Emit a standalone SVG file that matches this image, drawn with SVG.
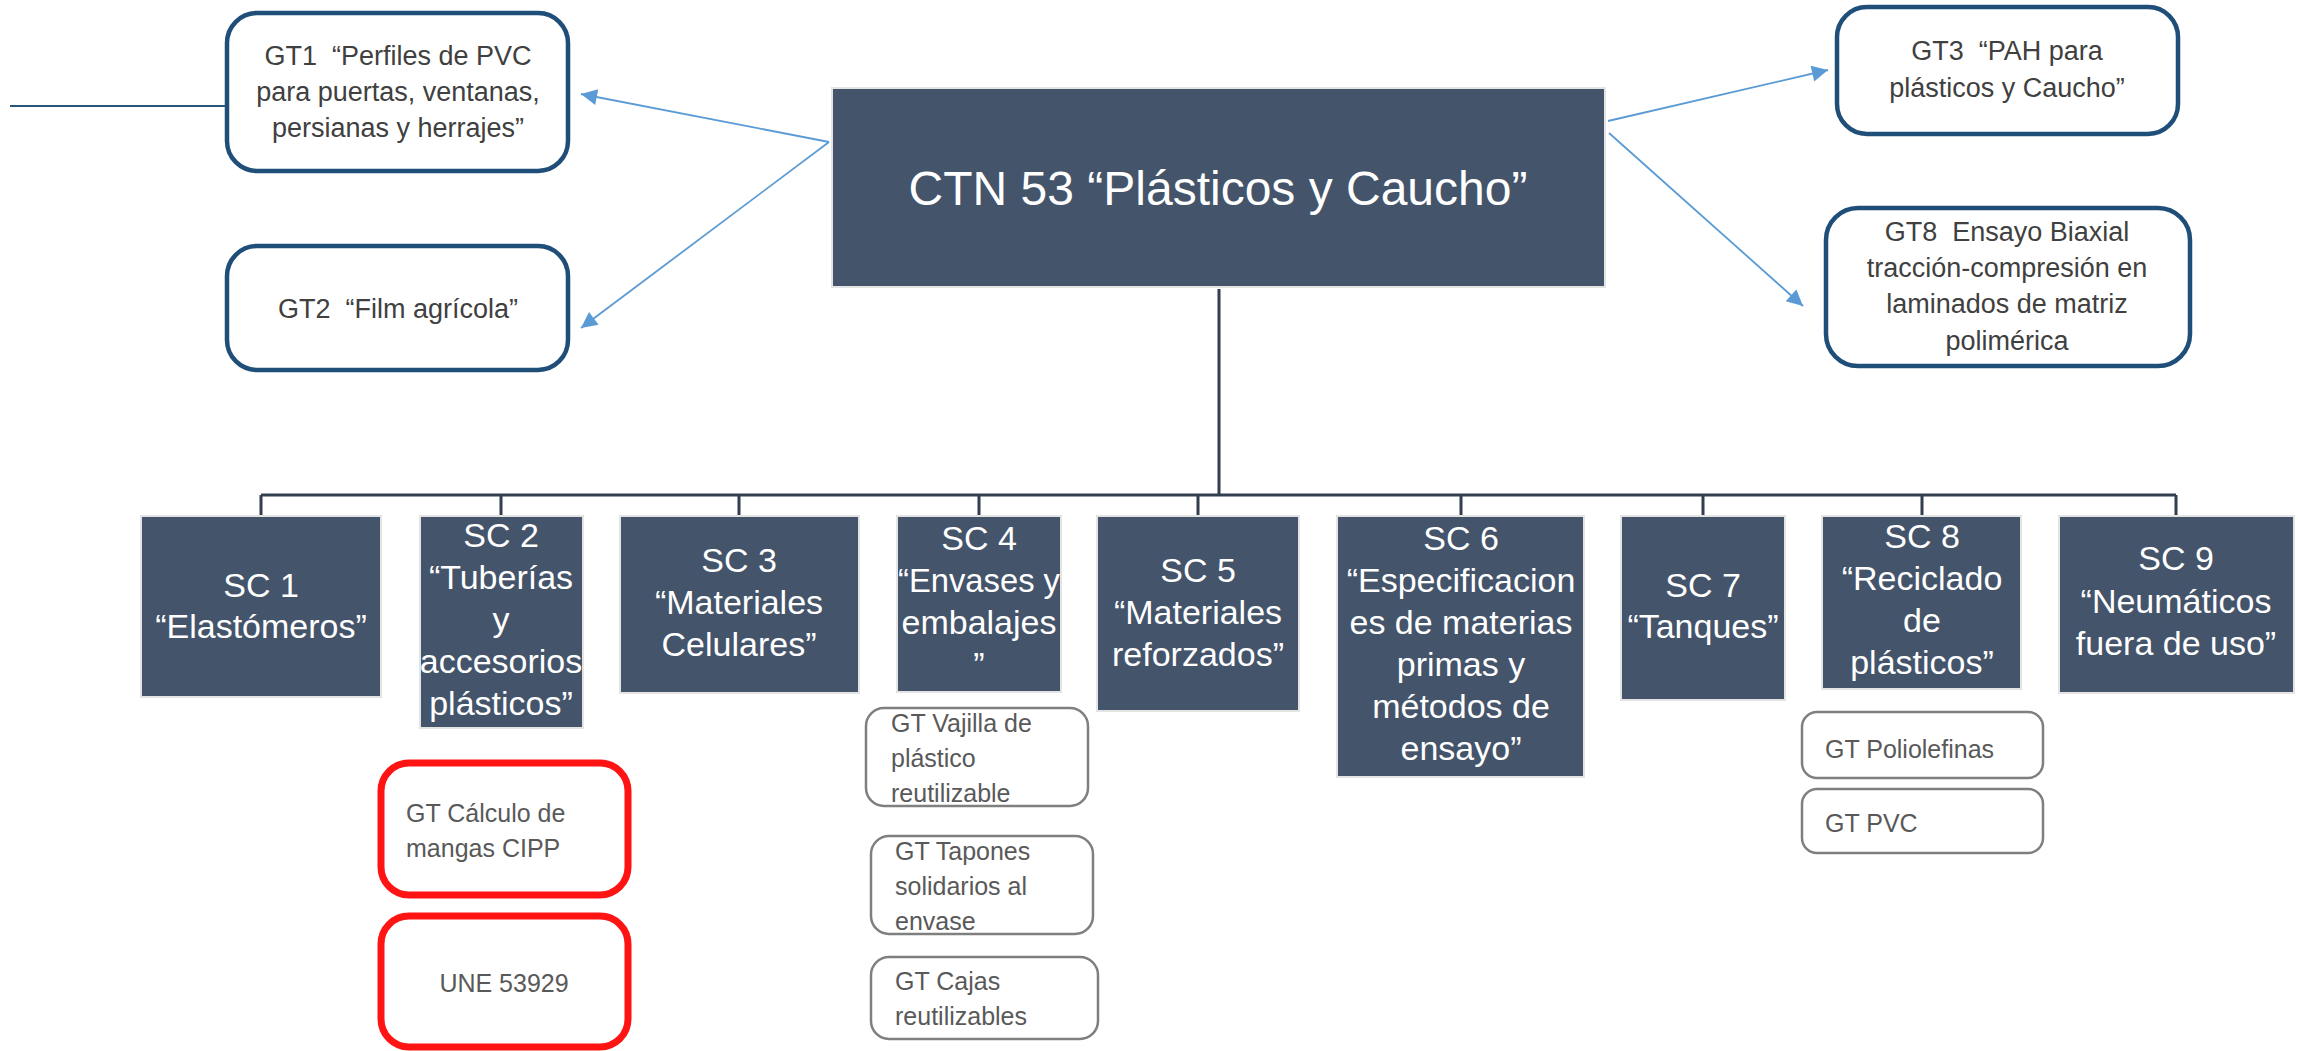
<svg xmlns="http://www.w3.org/2000/svg" width="2298" height="1051" viewBox="0 0 2298 1051">
<style>
.bg{fill:#ffffff}
.gt{fill:#ffffff;stroke:#1f4e79;stroke-width:4.5}
.gtt{font-family:"Liberation Sans",Arial,sans-serif;font-size:27px;fill:#404040;text-anchor:middle;white-space:pre}
.main{fill:#44546a;stroke:#e4e4e4;stroke-width:2}
.maint{font-family:"Liberation Sans",Arial,sans-serif;font-size:48px;fill:#ffffff;text-anchor:middle}
.sc{fill:#44546a;stroke:#e4e4e4;stroke-width:2}
.sct{font-family:"Liberation Sans",Arial,sans-serif;font-size:34px;fill:#ffffff;text-anchor:middle}
.sub{fill:#ffffff;stroke:#7f7f7f;stroke-width:2.5}
.subt{font-family:"Liberation Sans",Arial,sans-serif;font-size:25px;fill:#595959}
.red{fill:#ffffff;stroke:#ff1414;stroke-width:7}
.tree{stroke:#333f50;stroke-width:3;fill:none}
.arr{stroke:#5b9bd5;stroke-width:1.8;fill:none;marker-end:url(#ah)}
</style>
<defs>
<marker id="ah" viewBox="0 0 10 10" refX="10" refY="5" markerUnits="userSpaceOnUse" markerWidth="18" markerHeight="16" orient="auto">
<path d="M0,0 L10,5 L0,10 Z" fill="#5b9bd5"/>
</marker>
</defs>
<rect class="bg" x="0" y="0" width="2298" height="1051"/>

<g id="connectors">
<line x1="10" y1="106" x2="227" y2="106" stroke="#2c5678" stroke-width="2"/>
<path class="arr" d="M829,142 L581,94"/>
<path class="arr" d="M829,142 L581,328"/>
<path class="arr" d="M1608,121 L1828,70"/>
<path class="arr" d="M1609,133 L1803,306"/>
<path class="tree" d="M1219,289 V495 M261,495 H2176 M261,495 V516 M501,495 V516 M739,495 V516 M979,495 V516 M1198,495 V516 M1461,495 V516 M1703,495 V516 M1922,495 V516 M2176,495 V516"/>
</g>

<g id="ctn">
<rect class="main" x="832" y="88" width="773" height="199"/>
<text class="maint" x="1218" y="205">CTN 53 “Plásticos y Caucho”</text>
</g>

<g id="gt1">
<rect class="gt" x="227" y="13" width="341" height="158" rx="30"/>
<text class="gtt" x="398" y="65" xml:space="preserve">GT1  “Perfiles de PVC</text>
<text class="gtt" x="398" y="101">para puertas, ventanas,</text>
<text class="gtt" x="398" y="137">persianas y herrajes”</text>
</g>
<g id="gt2">
<rect class="gt" x="227" y="246" width="341" height="124" rx="30"/>
<text class="gtt" x="398" y="318" xml:space="preserve">GT2  “Film agrícola”</text>
</g>
<g id="gt3">
<rect class="gt" x="1837" y="7" width="341" height="127" rx="30"/>
<text class="gtt" x="2007" y="60" xml:space="preserve">GT3  “PAH para</text>
<text class="gtt" x="2007" y="97">plásticos y Caucho”</text>
</g>
<g id="gt8">
<rect class="gt" x="1826" y="208" width="364" height="158" rx="32"/>
<text class="gtt" x="2007" y="241" xml:space="preserve">GT8  Ensayo Biaxial</text>
<text class="gtt" x="2007" y="277">tracción-compresión en</text>
<text class="gtt" x="2007" y="313">laminados de matriz</text>
<text class="gtt" x="2007" y="350">polimérica</text>
</g>

<g id="sc1">
<rect class="sc" x="141" y="516" width="240" height="181"/>
<text class="sct" x="261" y="597">SC 1</text>
<text class="sct" x="261" y="638">“Elastómeros”</text>
</g>
<g id="sc2">
<rect class="sc" x="420" y="516" width="163" height="212"/>
<text class="sct" x="501" y="547">SC 2</text>
<text class="sct" x="501" y="589">“Tuberías</text>
<text class="sct" x="501" y="631">y</text>
<text class="sct" x="501" y="673">accesorios</text>
<text class="sct" x="501" y="715">plásticos”</text>
</g>
<g id="sc3">
<rect class="sc" x="620" y="516" width="239" height="177"/>
<text class="sct" x="739" y="572">SC 3</text>
<text class="sct" x="739" y="614">“Materiales</text>
<text class="sct" x="739" y="656">Celulares”</text>
</g>
<g id="sc4">
<rect class="sc" x="897" y="516" width="164" height="176"/>
<text class="sct" x="979" y="550">SC 4</text>
<text class="sct" x="979" y="592" textLength="162" lengthAdjust="spacingAndGlyphs">“Envases y</text>
<text class="sct" x="979" y="634">embalajes</text>
<text class="sct" x="979" y="676">”</text>
</g>
<g id="sc5">
<rect class="sc" x="1097" y="516" width="202" height="195"/>
<text class="sct" x="1198" y="582">SC 5</text>
<text class="sct" x="1198" y="624">“Materiales</text>
<text class="sct" x="1198" y="666">reforzados”</text>
</g>
<g id="sc6">
<rect class="sc" x="1337" y="516" width="247" height="261"/>
<text class="sct" x="1461" y="550">SC 6</text>
<text class="sct" x="1461" y="592">“Especificacion</text>
<text class="sct" x="1461" y="634">es de materias</text>
<text class="sct" x="1461" y="676">primas y</text>
<text class="sct" x="1461" y="718">métodos de</text>
<text class="sct" x="1461" y="760">ensayo”</text>
</g>
<g id="sc7">
<rect class="sc" x="1621" y="516" width="164" height="184"/>
<text class="sct" x="1703" y="597">SC 7</text>
<text class="sct" x="1703" y="638">“Tanques”</text>
</g>
<g id="sc8">
<rect class="sc" x="1822" y="516" width="199" height="173"/>
<text class="sct" x="1922" y="548">SC 8</text>
<text class="sct" x="1922" y="590">“Reciclado</text>
<text class="sct" x="1922" y="632">de</text>
<text class="sct" x="1922" y="674">plásticos”</text>
</g>
<g id="sc9">
<rect class="sc" x="2059" y="516" width="235" height="177"/>
<text class="sct" x="2176" y="570">SC 9</text>
<text class="sct" x="2176" y="613">“Neumáticos</text>
<text class="sct" x="2176" y="655">fuera de uso”</text>
</g>

<g id="gt-calculo">
<rect class="red" x="381" y="763" width="247" height="132" rx="28"/>
<text class="subt" x="406" y="822">GT Cálculo de</text>
<text class="subt" x="406" y="857">mangas CIPP</text>
</g>
<g id="une53929">
<rect class="red" x="381" y="916" width="247" height="131" rx="28"/>
<text class="subt" x="504" y="992" text-anchor="middle">UNE 53929</text>
</g>

<g id="gt-vajilla">
<rect class="sub" x="866" y="708" width="222" height="98" rx="18"/>
<text class="subt" x="891" y="732">GT Vajilla de</text>
<text class="subt" x="891" y="767">plástico</text>
<text class="subt" x="891" y="802">reutilizable</text>
</g>
<g id="gt-tapones">
<rect class="sub" x="871" y="836" width="222" height="98" rx="18"/>
<text class="subt" x="895" y="860">GT Tapones</text>
<text class="subt" x="895" y="895">solidarios al</text>
<text class="subt" x="895" y="930">envase</text>
</g>
<g id="gt-cajas">
<rect class="sub" x="871" y="957" width="227" height="82" rx="18"/>
<text class="subt" x="895" y="990">GT Cajas</text>
<text class="subt" x="895" y="1025">reutilizables</text>
</g>

<g id="gt-poliolefinas">
<rect class="sub" x="1802" y="712" width="241" height="66" rx="15"/>
<text class="subt" x="1825" y="758">GT Poliolefinas</text>
</g>
<g id="gt-pvc">
<rect class="sub" x="1802" y="789" width="241" height="64" rx="15"/>
<text class="subt" x="1825" y="832">GT PVC</text>
</g>
</svg>
